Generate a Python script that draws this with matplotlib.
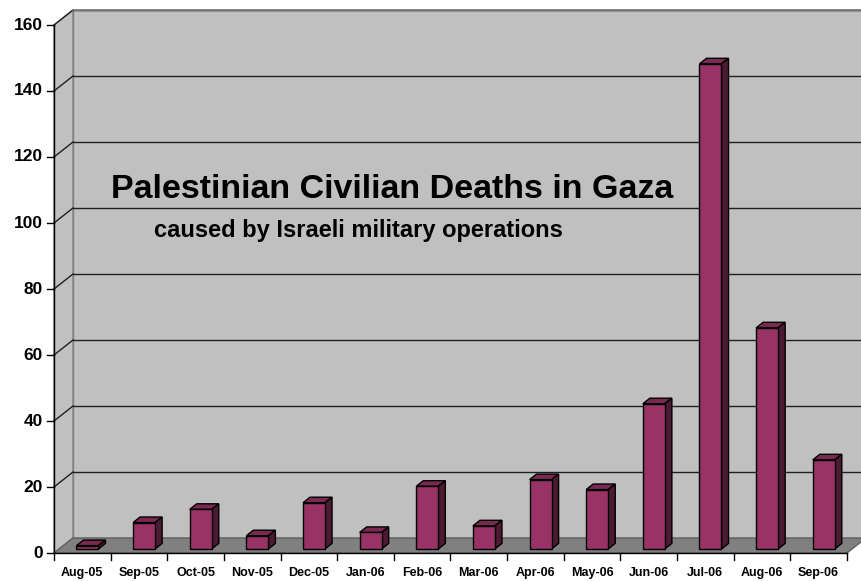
import matplotlib
matplotlib.use("Agg")
import matplotlib.pyplot as plt
import numpy as np

months = ["Aug-05", "Sep-05", "Oct-05", "Nov-05", "Dec-05", "Jan-06", "Feb-06",
          "Mar-06", "Apr-06", "May-06", "Jun-06", "Jul-06", "Aug-06", "Sep-06"]
deaths = [1, 8, 12, 4, 14, 5, 19, 7, 21, 18, 44, 147, 67, 27]
yticks = [0, 20, 40, 60, 80, 100, 120, 140, 160]

title = "Palestinian Civilian Deaths in Gaza"
subtitle = "caused by Israeli military operations"

plt.rcParams['font.family'] = ['Liberation Sans', 'DejaVu Sans']

# pixel scale of the excel-ish 3d chart
W, H = 861, 581
P = 56.64          # px per category
S = 3.3            # px per unit of value
DX = 19 / P        # depth offset (x) of the back wall
DY = 15 / S        # depth offset (y) of the back wall
f0, f1 = 0.27, 0.64  # depth fraction of bar front / back
bw = 22 / P

wall = "#c0c0c0"
floor = "#808080"
front_c, side_c, top_c = "#993366", "#4d1a33", "#7a2952"

fig = plt.figure(figsize=(W / 100, H / 100), dpi=100)
ax = fig.add_axes([0, 0, 1, 1])
ax.set_xlim(-0.5 - 54 / P, -0.5 + (W - 54) / P)
ax.set_ylim(-28 / S, 553 / S)
ax.axis("off")

n = len(months)
xl, xr = -0.5, n - 0.5
ymax = yticks[-1]

# walls and floor
ax.fill([xl + DX, xr + DX + 1, xr + DX + 1, xl + DX], [DY, DY, ymax + DY, ymax + DY],
        color=wall, ec="#808080", lw=1, zorder=1)
ax.fill([xl, xl + DX, xl + DX, xl], [0, DY, ymax + DY, ymax], color=wall, ec="#808080", lw=1, zorder=1)
ax.fill([xl, xr, xr + DX, xl + DX], [0, 0, DY, DY], color=floor, ec="#606060", lw=1, zorder=2)

# gridlines on back + side walls
for t in yticks[1:]:
    ax.plot([xl + DX, xr + DX + 1], [t + DY, t + DY], color="#202020", lw=1, zorder=1.5)
    ax.plot([xl, xl + DX], [t, t + DY], color="#202020", lw=1, zorder=1.5)
ax.plot([xl + DX, xr + DX + 1], [ymax + DY, ymax + DY], color="#808080", lw=1.2, zorder=1.6)

# front axes
ax.plot([xl, xl], [0, ymax], color="black", lw=1, zorder=3)
ax.plot([xl, xr], [0, 0], color="black", lw=1, zorder=3)
for t in yticks:
    ax.plot([xl - 7 / P, xl], [t, t], color="black", lw=1, zorder=3)
    ax.text(xl - 11 / P, t, str(t), ha="right", va="center", fontsize=12.5, fontweight="bold")
for i in range(n + 1):
    ax.plot([i - 0.5, i - 0.5], [0, -7 / S], color="black", lw=1, zorder=3)
for i, m in enumerate(months):
    ax.text(i, -20 / S, m, ha="center", va="center", fontsize=9, fontweight="bold")

# bars
x = np.arange(n) + f0 * DX
b0 = f0 * DY
d, dd = (f1 - f0) * DX, (f1 - f0) * DY
ax.bar(x, deaths, width=bw, bottom=b0, color=front_c, edgecolor="black", lw=1, zorder=5)
for xi, v in zip(x, deaths):
    x0, x1 = xi - bw / 2, xi + bw / 2
    ax.fill([x0, x1, x1 + d, x0 + d], [v + b0, v + b0, v + b0 + dd, v + b0 + dd],
            color=top_c, ec="black", lw=1, zorder=4)
    ax.fill([x1, x1 + d, x1 + d, x1], [b0, b0 + dd, v + b0 + dd, v + b0],
            color=side_c, ec="black", lw=1, zorder=4)

fig.text(392 / W, 1 - 198 / H, title, ha="center", va="baseline", fontsize=24.5, fontweight="bold")
fig.text(358 / W, 1 - 237 / H, subtitle, ha="center", va="baseline", fontsize=17, fontweight="bold")

fig.savefig("out.png", dpi=100, facecolor="white")
